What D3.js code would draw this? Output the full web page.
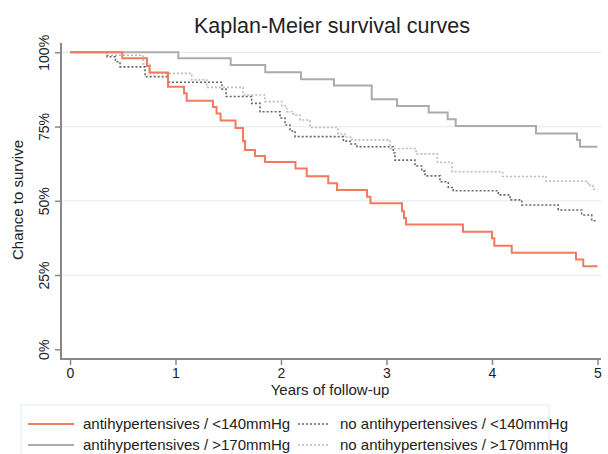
<!DOCTYPE html>
<meta charset="utf-8">
<style>
  body { margin: 0; background: #fff; }
  text { font-family: "Liberation Sans", Arial, sans-serif; fill: #222; }
</style>
<body>
<svg id="chart" width="608" height="454"></svg>
<script src="https://d3js.org/d3.v7.min.js"></script>
<script>

// step points [years, survival]
var antiLow = [[0,1],[0.496,0.980],[0.730,0.954],[0.754,0.932],[0.929,0.884],[1.081,0.862],[1.106,0.837],
  [1.355,0.816],[1.389,0.794],[1.427,0.770],[1.569,0.745],[1.640,0.701],[1.659,0.671],[1.754,0.651],
  [1.848,0.631],[2.137,0.609],[2.244,0.583],[2.448,0.559],[2.531,0.536],[2.815,0.514],[2.848,0.492],
  [3.147,0.465],[3.166,0.442],[3.185,0.420],[3.725,0.396],[4.000,0.374],[4.022,0.349],[4.187,0.325],
  [4.796,0.302],[4.865,0.280],[5,0.280]];

var antiHigh = [[0,1],[1.027,0.980],[1.523,0.957],[1.851,0.933],[2.19,0.909],[2.502,0.888],[2.86,0.842],
  [3.10,0.819],[3.40,0.797],[3.58,0.775],[3.656,0.752],[4.417,0.727],[4.805,0.705],[4.834,0.682],[5,0.682]];

var noAntiLow = [[0,1],[0.351,0.985],[0.431,0.968],[0.474,0.951],[0.711,0.918],[0.932,0.899],[1.441,0.876],
  [1.479,0.851],[1.722,0.828],[1.801,0.800],[1.991,0.779],[2.038,0.755],[2.085,0.735],[2.133,0.716],
  [2.591,0.701],[2.654,0.691],[2.720,0.682],[3.064,0.661],[3.081,0.637],[3.270,0.617],[3.334,0.600],
  [3.365,0.584],[3.507,0.564],[3.586,0.545],[3.633,0.534],[4.060,0.520],[4.171,0.503],[4.282,0.486],
  [4.628,0.469],[4.850,0.452],[4.945,0.433],[5,0.433]];

var noAntiHigh = [[0,1],[0.341,0.990],[0.692,0.961],[0.758,0.929],[1.154,0.907],[1.296,0.882],[1.640,0.856],
  [1.848,0.834],[2.007,0.819],[2.054,0.800],[2.117,0.789],[2.180,0.772],[2.275,0.747],[2.540,0.725],
  [2.607,0.715],[2.673,0.705],[3.033,0.676],[3.280,0.658],[3.483,0.630],[3.621,0.598],[4.100,0.582],
  [4.512,0.566],[4.910,0.552],[4.957,0.539],[5,0.539]];

var xTicks = [0,1,2,3,4,5];
var yTicks = [0,0.25,0.5,0.75,1];
var labels = ["antihypertensives / <140mmHg","no antihypertensives / <140mmHg",
  "antihypertensives / >170mmHg","no antihypertensives / >170mmHg"];

var series = [
  {data: antiLow, color: "#f37a5c", width: 2, dash: null},
  {data: noAntiLow, color: "#666", width: 1.6, dash: "2,2"},
  {data: antiHigh, color: "#ababab", width: 2, dash: null},
  {data: noAntiHigh, color: "#bbb", width: 1.6, dash: "2,2"}
];

var svg = d3.select("#chart");

var x = d3.scaleLinear().domain([0,5]).range([70,597.5]);
var y = d3.scaleLinear().domain([0,1]).range([349.3,52.3]);

// grid
svg.selectAll(".grid").data(yTicks.filter(function(d){ return d > 0; }))
  .enter().append("line")
  .attr("x1", 62).attr("x2", 601)
  .attr("y1", function(d){ return y(d); }).attr("y2", function(d){ return y(d); })
  .attr("stroke", "#e4eef0").attr("stroke-width", 1.2);

// axes
var yAxis = svg.append("g").attr("transform", "translate(61,0)")
  .call(d3.axisLeft(y).tickValues(yTicks).tickFormat(d3.format(".0%")).tickSize(6));
yAxis.select(".domain").remove();
yAxis.selectAll("line").attr("stroke", "#888").attr("stroke-width", 1.5);
yAxis.selectAll("text")
  .attr("x", 0).attr("dy", 0)
  .attr("transform", "translate(-12,0) rotate(-90)")
  .attr("text-anchor", "middle")
  .style("font-size", "14px").style("font-family", "Liberation Sans, Arial, sans-serif").attr("fill", "#222");

var xAxis = svg.append("g").attr("transform", "translate(0,359)")
  .call(d3.axisBottom(x).tickValues(xTicks).tickFormat(d3.format("d")).tickSize(6));
xAxis.select(".domain").remove();
xAxis.selectAll("line").attr("stroke", "#888").attr("stroke-width", 1.5);
xAxis.selectAll("text").attr("y", 9).attr("dy", "0.71em")
  .style("font-size", "14px").style("font-family", "Liberation Sans, Arial, sans-serif").attr("fill", "#222");

svg.append("line").attr("x1", 61).attr("x2", 61).attr("y1", 43).attr("y2", 360)
  .attr("stroke", "#888").attr("stroke-width", 2);
svg.append("line").attr("x1", 60).attr("x2", 601).attr("y1", 359).attr("y2", 359)
  .attr("stroke", "#888").attr("stroke-width", 2);

// curves
var line = d3.line()
  .x(function(d){ return x(d[0]); })
  .y(function(d){ return y(d[1]); })
  .curve(d3.curveStepAfter);

[series[3], series[1], series[2], series[0]].forEach(function(s) {
  svg.append("path").datum(s.data)
    .attr("d", line)
    .attr("fill", "none")
    .attr("stroke", s.color)
    .attr("stroke-width", s.width)
    .attr("stroke-dasharray", s.dash);
});

// titles
svg.append("text").attr("x", 332).attr("y", 33).attr("text-anchor", "middle")
  .style("font-size", "21.5px").text("Kaplan-Meier survival curves");
svg.append("text").attr("x", 330).attr("y", 395).attr("text-anchor", "middle")
  .style("font-size", "15px").text("Years of follow-up");
svg.append("text").attr("transform", "translate(23,200) rotate(-90)").attr("text-anchor", "middle")
  .style("font-size", "15px").text("Chance to survive");

// legend
svg.append("rect").attr("x", 21).attr("y", 405).attr("width", 528).attr("height", 70)
  .attr("fill", "none").attr("stroke", "#e4eef0").attr("stroke-width", 1.2);

var leg = svg.selectAll(".leg").data(series).enter().append("g")
  .attr("transform", function(d, i) {
    return "translate(" + (i % 2 ? 298 : 28) + "," + (i < 2 ? 424 : 445) + ")";
  });
leg.append("line").attr("x1", 0).attr("x2", function(d, i){ return i % 2 ? 32 : 46; })
  .attr("y1", 0).attr("y2", 0)
  .attr("stroke", function(d){ return d.color; })
  .attr("stroke-width", function(d){ return d.width; })
  .attr("stroke-dasharray", function(d){ return d.dash; });
leg.append("text").attr("x", function(d, i){ return i % 2 ? 42 : 55; }).attr("y", 5)
  .style("font-size", "15px")
  .text(function(d, i){ return labels[i]; });

</script>
</body>
